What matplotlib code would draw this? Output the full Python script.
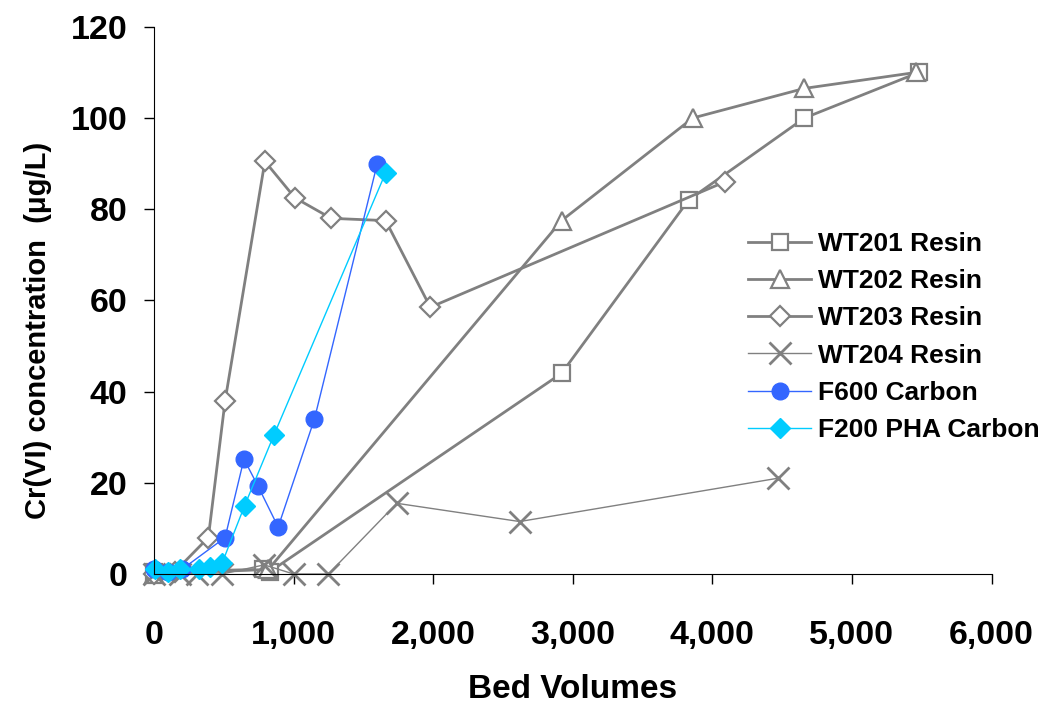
import matplotlib
matplotlib.use("Agg")
import matplotlib.pyplot as plt
from matplotlib.ticker import FuncFormatter

plt.rcParams['font.family'] = ['Liberation Sans', 'DejaVu Sans']
plt.rcParams['font.weight'] = 'bold'

# data
wt201_x = [0, 780, 830, 2920, 3830, 4660, 5480]
wt201_y = [0.5, 1, 0.5, 44, 82, 100, 110]
wt202_x = [0, 820, 2920, 3860, 4660, 5460]
wt202_y = [0, 1, 77.5, 100, 106.5, 110]
wt203_x = [0, 150, 390, 510, 795, 1010, 1270, 1660, 1980, 4090]
wt203_y = [0, 0.5, 8, 38, 90.5, 82.5, 78, 77.5, 58.5, 86]
wt204_x = [0, 190, 310, 490, 790, 1000, 1250, 1740, 2620, 4470]
wt204_y = [0, 0, 0, 0, 2, 0, 0, 15.5, 11.5, 21]
f600_x = [0, 100, 200, 510, 645, 745, 890, 1150, 1600]
f600_y = [1, 0.5, 1, 8, 25.2, 19.3, 10.3, 34, 90]
f200_x = [10, 100, 190, 320, 400, 490, 650, 860, 1660]
f200_y = [1, 0.5, 1, 1, 1.5, 2.5, 15, 30.5, 88]

gray = '#808080'

fig = plt.figure(figsize=(10.47, 7.06), dpi=100)
ax = fig.add_axes([0.147, 0.187, 0.8, 0.775])

ax.plot(wt201_x, wt201_y, color=gray, lw=2, marker='s', ms=12, mfc='white',
        mec=gray, mew=1.6, label='WT201 Resin', clip_on=False)
ax.plot(wt202_x, wt202_y, color=gray, lw=2, marker='^', ms=13, mfc='white',
        mec=gray, mew=1.6, label='WT202 Resin', clip_on=False)
ax.plot(wt203_x, wt203_y, color=gray, lw=2, marker='D', ms=10, mfc='white',
        mec=gray, mew=1.6, label='WT203 Resin', clip_on=False)
ax.plot(wt204_x, wt204_y, color=gray, lw=1, marker='x', ms=16,
        mec=gray, mew=2, label='WT204 Resin', clip_on=False)
ax.plot(f600_x, f600_y, color='#3366FF', lw=1, marker='o', ms=12,
        mfc='#3366FF', mec='#3366FF', label='F600 Carbon', clip_on=False)
ax.plot(f200_x, f200_y, color='#00CCFF', lw=1, marker='D', ms=10,
        mfc='#00CCFF', mec='#00CCFF', label='F200 PHA Carbon', clip_on=False)

ax.set_xlim(0, 6000)
ax.set_ylim(0, 120)
ax.set_xticks(range(0, 6001, 1000))
ax.set_yticks(range(0, 121, 20))
ax.xaxis.set_major_formatter(FuncFormatter(lambda v, p: f'{int(v):,}'))
ax.tick_params(direction='out', length=7, width=1, labelsize=24.5)
ax.tick_params(axis='x', pad=26)
ax.tick_params(axis='y', pad=12)
for lab in ax.get_xticklabels() + ax.get_yticklabels():
    lab.set_fontweight('bold')
ax.spines['top'].set_visible(False)
ax.spines['right'].set_visible(False)

ax.set_xlabel('Bed Volumes', fontsize=24, fontweight='bold', va='center')
ax.xaxis.set_label_coords(0.5, -0.212)
ax.set_ylabel('Cr(VI) concentration  (\u03bcg/L)', fontsize=21, fontweight='bold')
ax.yaxis.set_label_coords(-0.122, 0.446)

ax.legend(loc='upper left', bbox_to_anchor=(748 / 1047, 1 - 232 / 706),
          bbox_transform=fig.transFigure, frameon=False, borderpad=0,
          borderaxespad=0, prop={'weight': 'bold', 'size': 19}, handlelength=2.4,
          labelspacing=0.5, handletextpad=0.25)

fig.savefig('out.png', dpi=100)
